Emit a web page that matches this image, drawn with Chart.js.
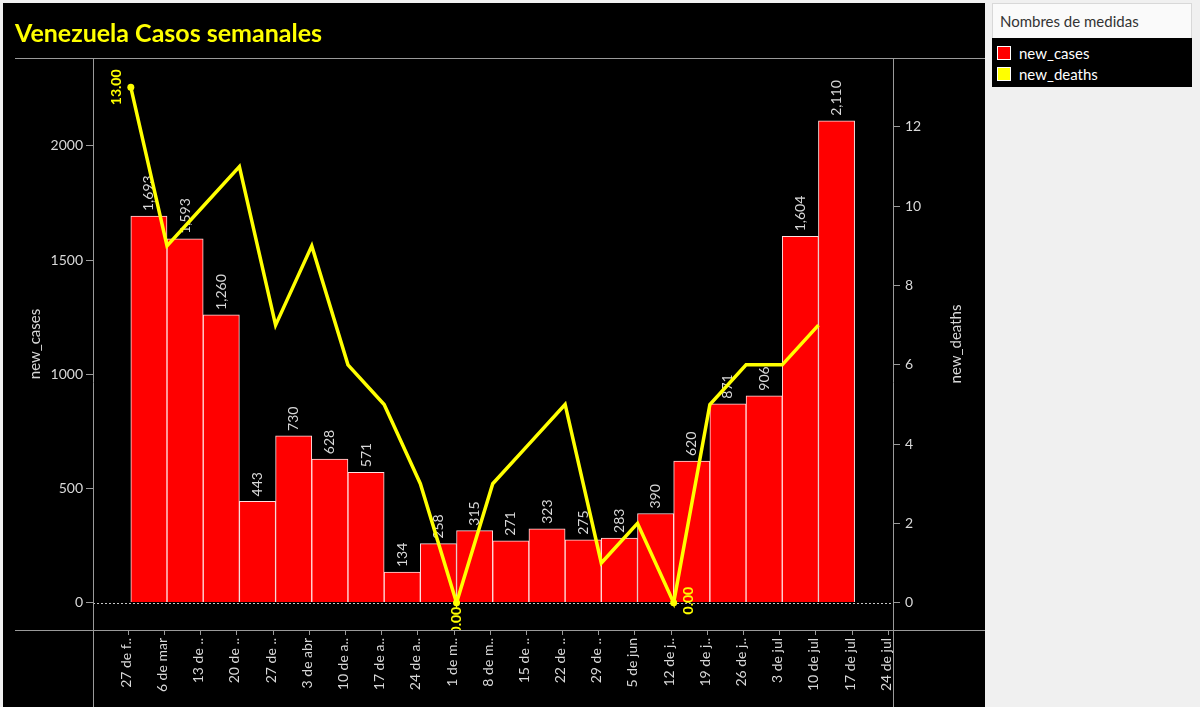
<!DOCTYPE html>
<html>
<head>
<meta charset="utf-8">
<script src="https://cdn.jsdelivr.net/npm/chart.js@4/dist/chart.umd.min.js"></script>
<style>
  html, body { margin: 0; padding: 0; background: #f0f0f0; }
  body { width: 1200px; height: 707px; position: relative; overflow: hidden; font-family: Lato, sans-serif; }
  #chart { position: absolute; left: 0; top: 0; }
  #title { position: absolute; left: 15px; top: 20px; color: #ffff00; font: bold 25px Lato, sans-serif; line-height: 25px; white-space: nowrap; }
  #legend { position: absolute; left: 992px; top: 3px; width: 200px; }
  #legend .head { height: 34px; background: #fafafa; border: 1px solid #d8d8d8; border-bottom: none; color: #333; font-size: 15px; line-height: 34px; padding-left: 7px; }
  #legend .body { background: #000; height: 49px; padding-top: 4px; box-sizing: border-box; }
  #legend .item { height: 21px; display: flex; align-items: center; color: #fff; font-size: 15px; }
  #legend .sw { width: 12px; height: 12px; border: 1px solid #fff; margin: 0 8px 0 5px; }
</style>
</head>
<body>
<canvas id="chart" width="1200" height="707"></canvas>
<div id="title">Venezuela Casos semanales</div>
<div id="legend">
  <div class="head">Nombres de medidas</div>
  <div class="body">
    <div class="item"><span class="sw" style="background:#ff0000"></span>new_cases</div>
    <div class="item"><span class="sw" style="background:#ffff00"></span>new_deaths</div>
  </div>
</div>
<script>
// semanas (eje x)
const weekLabels = ['27 de f..', '6 de mar', '13 de ..', '20 de ..', '27 de ..', '3 de abr', '10 de a..',
  '17 de a..', '24 de a..', '1 de m..', '8 de m..', '15 de ..', '22 de ..', '29 de ..', '5 de jun',
  '12 de j..', '19 de j..', '26 de j..', '3 de jul', '10 de jul', '17 de jul', '24 de jul'];

const newCases = [1693, 1593, 1260, 443, 730, 628, 571, 134, 258, 315, 271, 323, 275, 283, 390, 620, 871, 906, 1604, 2110];
const newDeaths = [13, 9, 10, 11, 7, 9, 6, 5, 3, 0, 3, 4, 5, 1, 2, 0, 5, 6, 6, 7];

const casesTicks = [0, 500, 1000, 1500, 2000];
const deathsTicks = [0, 2, 4, 6, 8, 10, 12];

const RED = '#ff0000';
const YELLOW = '#ffff00';
const AXIS = '#9a9a9a';
const TEXT = '#d8d8d8';
const SHIFT = 0.07; // las barras arrancan un poco despues de la marca

// puntos extremos que llevan etiqueta (max / min)
const dMax = Math.max(...newDeaths);
const dMin = Math.min(...newDeaths);
const extremes = newDeaths.map((v, i) => (v === dMax || v === dMin) ? i : -1).filter(i => i >= 0);
const extremePlacement = ['left', 'below', 'right'];

const framePlugin = {
  id: 'frame',
  beforeDraw(chart) {
    const ctx = chart.ctx;
    ctx.save();
    ctx.fillStyle = '#f0f0f0';
    ctx.fillRect(0, 0, chart.width, chart.height);
    ctx.fillStyle = '#000';
    ctx.fillRect(3, 3, 982, 704);
    ctx.restore();
  },
  beforeDatasetsDraw(chart) {
    const { ctx, chartArea: a, scales } = chart;
    const y0 = Math.round(scales.y.getPixelForValue(0)) + 0.5;
    ctx.save();
    ctx.strokeStyle = '#c8c8c8';
    ctx.lineWidth = 1;
    ctx.setLineDash([2, 2]);
    ctx.beginPath();
    ctx.moveTo(a.left, y0);
    ctx.lineTo(a.right, y0);
    ctx.stroke();
    ctx.restore();
  },
  afterDatasetDraw(chart, args) {
    if (args.index !== 0) return;
    const ctx = chart.ctx;
    ctx.save();
    ctx.fillStyle = TEXT;
    ctx.font = '14px Lato, sans-serif';
    ctx.textAlign = 'left';
    ctx.textBaseline = 'middle';
    args.meta.data.forEach((bar, i) => {
      ctx.save();
      ctx.translate(bar.x, bar.y - 5);
      ctx.rotate(-Math.PI / 2);
      ctx.fillText(newCases[i].toLocaleString('en-US'), 0, 0);
      ctx.restore();
    });
    ctx.restore();
  },
  afterDatasetsDraw(chart) {
    const { ctx, chartArea: a } = chart;
    const pts = chart.getDatasetMeta(1).data;
    ctx.save();
    ctx.beginPath();
    ctx.rect(a.left, a.top, a.right - a.left, a.bottom - a.top);
    ctx.clip();
    ctx.fillStyle = YELLOW;
    ctx.font = 'bold 14px Lato, sans-serif';
    ctx.textAlign = 'center';
    ctx.textBaseline = 'middle';
    extremes.forEach((idx, k) => {
      const p = pts[idx];
      const place = extremePlacement[k] || 'below';
      let x = p.x, y = p.y;
      if (place === 'left') x -= 14;
      else if (place === 'right') { x += 15; y -= 2; }
      else y += 18;
      ctx.save();
      ctx.translate(x, y);
      ctx.rotate(-Math.PI / 2);
      ctx.fillText(newDeaths[idx].toFixed(2), 0, 0);
      ctx.restore();
    });
    ctx.restore();
  },
  afterDraw(chart) {
    const { ctx, chartArea: a } = chart;
    const t = Math.round(a.top) + 0.5, b = Math.round(a.bottom) + 0.5;
    const l = Math.round(a.left) + 0.5, r = Math.round(a.right) + 0.5;
    ctx.save();
    ctx.strokeStyle = AXIS;
    ctx.lineWidth = 1;
    ctx.beginPath();
    ctx.moveTo(15, t); ctx.lineTo(985, t);
    ctx.moveTo(15, b); ctx.lineTo(985, b);
    ctx.moveTo(l, t); ctx.lineTo(l, 707);
    ctx.moveTo(r, t); ctx.lineTo(r, 707);
    ctx.stroke();
    // titulo eje derecho
    ctx.fillStyle = TEXT;
    ctx.font = '15px Lato, sans-serif';
    ctx.textAlign = 'center';
    ctx.textBaseline = 'middle';
    ctx.translate(956, (a.top + a.bottom) / 2);
    ctx.rotate(-Math.PI / 2);
    ctx.fillText('new_deaths', 0, 0);
    ctx.restore();
  }
};

const tickFont = { family: 'Lato, sans-serif', size: 14 };
const axisFont = { family: 'Lato, sans-serif', size: 15 };

new Chart(document.getElementById('chart'), {
  data: {
    datasets: [
      {
        type: 'bar',
        label: 'new_cases',
        data: newCases.map((v, i) => ({ x: i + 0.5 + SHIFT, y: v })),
        backgroundColor: RED,
        borderColor: '#ffe0e0',
        borderWidth: 1,
        categoryPercentage: 1,
        barPercentage: 1,
        yAxisID: 'y',
        order: 1
      },
      {
        type: 'line',
        label: 'new_deaths',
        data: newDeaths.map((v, i) => ({ x: i + SHIFT, y: v })),
        borderColor: YELLOW,
        borderWidth: 3.5,
        tension: 0,
        pointRadius: ctx => extremes.includes(ctx.dataIndex) ? 3.5 : 0,
        pointBackgroundColor: YELLOW,
        pointBorderWidth: 0,
        yAxisID: 'y2',
        order: 0
      }
    ]
  },
  options: {
    responsive: false,
    animation: false,
    layout: { padding: { left: 3, top: 58, right: 215, bottom: 0 } },
    plugins: { legend: { display: false }, tooltip: { enabled: false } },
    scales: {
      x: {
        type: 'linear',
        offset: false,
        min: -0.975,
        max: 21.13,
        afterBuildTicks: s => { s.ticks = weekLabels.map((_, i) => ({ value: i })); },
        afterFit: s => { s.height = 77; },
        border: { display: false },
        grid: { offset: false, drawOnChartArea: false, drawTicks: true, tickLength: 5, tickColor: AXIS },
        ticks: {
          autoSkip: false,
          minRotation: 90,
          maxRotation: 90,
          padding: 3,
          labelOffset: -2,
          color: TEXT,
          font: tickFont,
          callback: v => weekLabels[v] ?? ''
        }
      },
      y: {
        position: 'left',
        min: -120,
        max: 2385,
        afterBuildTicks: s => { s.ticks = casesTicks.map(v => ({ value: v })); },
        afterFit: s => { s.width = 90; },
        border: { display: false },
        grid: { drawOnChartArea: false, drawTicks: true, tickLength: 7, tickColor: AXIS },
        ticks: { padding: 3, color: TEXT, font: tickFont, callback: v => String(v) },
        title: { display: true, text: 'new_cases', color: TEXT, font: axisFont, padding: { top: 23, bottom: 0 } }
      },
      y2: {
        position: 'right',
        min: -0.69,
        max: 13.74,
        afterBuildTicks: s => { s.ticks = deathsTicks.map(v => ({ value: v })); },
        afterFit: s => { s.width = 92; },
        border: { display: false },
        grid: { drawOnChartArea: false, drawTicks: true, tickLength: 7, tickColor: AXIS },
        ticks: { padding: 5, color: TEXT, font: tickFont, callback: v => String(v) }
      }
    }
  },
  plugins: [framePlugin]
});
</script>
</body>
</html>
